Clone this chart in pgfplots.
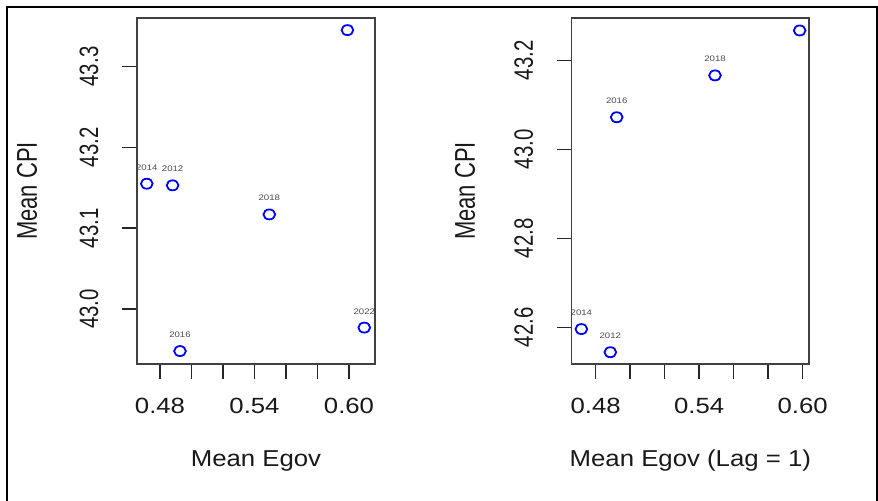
\documentclass[border=0pt]{standalone}
\usepackage{fontspec}
\setmainfont{Liberation Sans}
\usepackage{pgfplots}
\usepackage{pgfplotstable}
\pgfplotsset{compat=1.18}

% mean CPI against mean Egov, by year
\pgfplotstableread{
x      y      lab
0.4716 43.155 2014
0.4880 43.153 2012
0.4927 42.948 2016
0.5494 43.117 2018
0.5990 43.345 {}
0.6097 42.977 2022
}\egovdata

% same, Egov lagged by one period
\pgfplotstableread{
x      y      lab
0.4717 42.596 2014
0.4885 42.544 2012
0.4922 43.072 2016
0.5492 43.166 2018
0.5983 43.267 {}
}\lagdata

% the source image is stretched sideways, so text and marks are too
% (rotated labels: yscale acts across the text, i.e. sideways on the page)
\pgfplotsset{
  rbase/.style={
    scale only axis, width=119pt, height=173pt,
    axis line style={draw=black!75, line width=0.75pt},
    tick align=outside, major tick length=7.5pt,
    tick style={black!85, line width=0.75pt},
    tick pos=left,
    xtick={0.48,0.50,0.52,0.54,0.56,0.58,0.60},
    xticklabels={0.48,{},{},0.54,{},{},0.60},
    ticklabel style={text=black!90},
    xticklabel style={font=\fontsize{11}{13}\selectfont, anchor=center, xscale=1.17},
    yticklabel style={font=\fontsize{10.2}{12}\selectfont, rotate=90, anchor=center, yscale=1.3},
    xticklabel shift=13.5pt,
    yticklabel shift=16.5pt,
    label style={text=black!90},
    xlabel style={font=\fontsize{11.5}{13}\selectfont, anchor=center, xscale=1.12},
    ylabel style={font=\fontsize{11}{13}\selectfont, anchor=center, yscale=1.3},
    /pgf/number format/assume math mode=true,
    clip marker paths=true,
    point meta=explicit symbolic,
    nodes near coords,
    every node near coord/.append style={font=\fontsize{4}{5}\selectfont,
      text=black!70, inner sep=0pt, yshift=6.3pt, xscale=1.2},
  },
  rdots/.style={only marks, mark=o, blue, mark size=2.5pt,
    mark options={xscale=1.17, line width=0.9pt}},
}

\begin{document}
\begin{tikzpicture}
\useasboundingbox (0,0) rectangle (439pt,250.5pt);
\draw[line width=1pt] (3.5pt,0) -- (3.5pt,247pt) -- (438.5pt,247pt) -- (438.5pt,0);

\begin{axis}[rbase, at={(68.5pt,68.5pt)}, anchor=south west,
    xmin=0.4654, xmax=0.6165, ymin=42.932, ymax=43.360,
    ytick={43.0,43.1,43.2,43.3}, yticklabels={43.0,43.1,43.2,43.3},
    xlabel={Mean Egov}, ylabel={Mean CPI},
    xlabel style={at={(axis description cs:0.5,-0.280)}},
    ylabel style={at={(axis description cs:-0.462,0.5)}}]
\addplot[rdots] table[x=x, y=y, meta=lab] {\egovdata};
\end{axis}

\begin{axis}[rbase, at={(285.85pt,68.5pt)}, anchor=south west, width=118.65pt,
    xmin=0.4661, xmax=0.6037, ymin=42.5175, ymax=43.295,
    ytick={42.6,42.8,43.0,43.2}, yticklabels={42.6,42.8,43.0,43.2},
    xlabel={Mean Egov (Lag = 1)}, ylabel={Mean CPI},
    xlabel style={at={(axis description cs:0.5,-0.280)}},
    ylabel style={at={(axis description cs:-0.450,0.5)}}]
\addplot[rdots] table[x=x, y=y, meta=lab] {\lagdata};
\end{axis}
\end{tikzpicture}
\end{document}
